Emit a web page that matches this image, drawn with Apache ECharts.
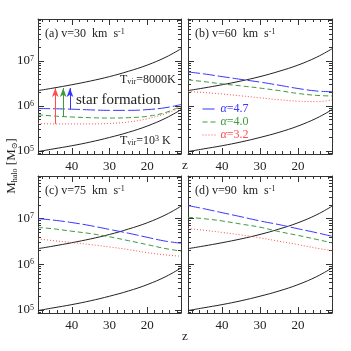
<!DOCTYPE html>
<html>
<head>
<meta charset="utf-8">
<script src="https://cdn.jsdelivr.net/npm/echarts@6/dist/echarts.min.js"></script>
<style>
  html, body { margin: 0; padding: 0; background: #fff; }
  #chart { width: 351px; height: 351px; }
</style>
</head>
<body>
<div id="chart"></div>
<script>
// ====== 数据 ======
const zValues = [49, 45, 40, 35, 30, 25, 20, 15, 11];

// T_vir = 8000K 和 T_vir = 10^3 K（四个面板相同）
const tvir8000 = [2.2e6, 2.5e6, 2.97e6, 3.6e6, 4.5e6, 5.9e6, 8.1e6, 1.22e7, 1.87e7];
const tvir1000 = [0.97e5, 1.11e5, 1.31e5, 1.59e5, 2.0e5, 2.6e5, 3.58e5, 5.4e5, 8.3e5];

// v = 30 km/s
const a47v30 = [8.8e5, 8.7e5, 8.5e5, 8.2e5, 8.0e5, 8.0e5, 8.3e5, 9.2e5, 1.08e6];
const a40v30 = [6.4e5, 6.0e5, 5.7e5, 5.5e5, 5.4e5, 5.5e5, 5.9e5, 7.2e5, 1.0e6];
const a32v30 = [4.1e5, 4.0e5, 4.0e5, 4.0e5, 4.1e5, 4.4e5, 5.2e5, 6.8e5, 9.5e5];
// v = 60 km/s
const a47v60 = [5.7e6, 5.2e6, 4.5e6, 3.9e6, 3.4e6, 2.9e6, 2.45e6, 2.15e6, 2.08e6];
const a40v60 = [3.8e6, 3.5e6, 3.1e6, 2.8e6, 2.5e6, 2.2e6, 1.9e6, 1.72e6, 1.67e6];
const a32v60 = [2.1e6, 2.0e6, 1.85e6, 1.68e6, 1.52e6, 1.38e6, 1.28e6, 1.25e6, 1.36e6];
// v = 75 km/s
const a47v75 = [1.0e7, 9.3e6, 8.2e6, 7.0e6, 5.8e6, 4.8e6, 3.9e6, 3.2e6, 2.9e6];
const a40v75 = [6.4e6, 6.0e6, 5.3e6, 4.7e6, 4.0e6, 3.3e6, 2.7e6, 2.2e6, 1.95e6];
const a32v75 = [3.6e6, 3.3e6, 3.0e6, 2.7e6, 2.4e6, 2.1e6, 1.8e6, 1.6e6, 1.5e6];
// v = 90 km/s
const a47v90 = [1.93e7, 1.66e7, 1.35e7, 1.1e7, 8.9e6, 7.4e6, 6.0e6, 4.9e6, 4.1e6];
const a40v90 = [1.07e7, 1.0e7, 8.9e6, 7.6e6, 6.5e6, 5.2e6, 4.3e6, 3.5e6, 2.95e6];
const a32v90 = [6.1e6, 5.6e6, 5.0e6, 4.4e6, 3.8e6, 3.2e6, 2.7e6, 2.25e6, 2.0e6];

// 面板 (a) 中的箭头（顺序：α=4.7, 4.0, 3.2）
const arrowZ = [40.5, 42.3, 44.4];
const arrowFrom = [8.4e5, 5.7e5, 4.0e5];
const arrowTo = [2.5e6, 2.5e6, 2.5e6];

const panelLabels = ['(a)', '(b)', '(c)', '(d)'];
const velocities = [30, 60, 75, 90];
const alphaNames = ['α=4.7', 'α=4.0', 'α=3.2'];

const zMajor = [40, 30, 20];
const zMinor = [48, 46, 44, 42, 38, 36, 34, 32, 28, 26, 24, 22, 18, 16, 14, 12];
const mMajor = [1e5, 1e6, 1e7];
const mMinor = [9e4, 2e5, 3e5, 4e5, 5e5, 6e5, 7e5, 8e5, 9e5,
                2e6, 3e6, 4e6, 5e6, 6e6, 7e6, 8e6, 9e6,
                2e7, 3e7, 4e7, 5e7, 6e7, 7e7, 8e7];

const curves = [
  [a47v30, a40v30, a32v30],
  [a47v60, a40v60, a32v60],
  [a47v75, a40v75, a32v75],
  [a47v90, a40v90, a32v90]
];

// ====== 样式 ======
const FONT = '"Liberation Serif", "DejaVu Serif", serif';
const AXIS_COLOR = '#333';
const COLORS = ['#3535ff', '#3d9a3d', '#ff4d4d'];
const DASHES = [[12, 3], [5, 3], [1, 2]];

const grids = [
  { left: 38, top: 19, width: 143, height: 135 },
  { left: 188, top: 19, width: 144, height: 135 },
  { left: 38, top: 176, width: 143, height: 137 },
  { left: 188, top: 176, width: 144, height: 137 }
];

const Z_MIN = 11, Z_MAX = 49;
const M_MIN = 8.58e4, M_MAX = 8.58e7;

function xAxisDef(gi, pos, ticks, len, withLine, withLabel) {
  return {
    gridIndex: gi, type: 'value', position: pos, inverse: true,
    min: Z_MIN, max: Z_MAX,
    axisLine: { show: withLine, onZero: false, lineStyle: { color: AXIS_COLOR, width: 1 } },
    axisTick: { show: true, inside: true, length: len, customValues: ticks,
      lineStyle: { color: AXIS_COLOR, width: 1 } },
    axisLabel: withLabel
      ? { show: true, customValues: zMajor, margin: 6, color: '#222', fontSize: 13, fontFamily: FONT }
      : { show: false },
    splitLine: { show: false }
  };
}

function yAxisDef(gi, pos, ticks, len, withLine, withLabel) {
  return {
    gridIndex: gi, type: 'log', logBase: 10, position: pos,
    min: M_MIN, max: M_MAX,
    axisLine: { show: withLine, onZero: false, lineStyle: { color: AXIS_COLOR, width: 1 } },
    axisTick: { show: true, inside: true, length: len, customValues: ticks,
      lineStyle: { color: AXIS_COLOR, width: 1 } },
    axisLabel: withLabel
      ? {
          show: true, customValues: mMajor, margin: 4,
          formatter: v => '{b|10}{s|' + Math.round(Math.log10(v)) + '}',
          rich: {
            b: { fontSize: 13, fontFamily: FONT, color: '#222' },
            s: { fontSize: 8, fontFamily: FONT, color: '#222', verticalAlign: 'top' }
          }
        }
      : { show: false },
    splitLine: { show: false }
  };
}

const xAxes = [], yAxes = [], series = [];

grids.forEach((g, gi) => {
  const xi = xAxes.length, yi = yAxes.length;
  xAxes.push(xAxisDef(gi, 'bottom', zMajor, 6, true, true));
  xAxes.push(xAxisDef(gi, 'bottom', zMinor, 3, false, false));
  xAxes.push(xAxisDef(gi, 'top', zMajor, 6, true, false));
  xAxes.push(xAxisDef(gi, 'top', zMinor, 3, false, false));
  const showY = gi === 0 || gi === 2;
  yAxes.push(yAxisDef(gi, 'left', mMajor, 6, true, showY));
  yAxes.push(yAxisDef(gi, 'left', mMinor, 3, false, false));
  yAxes.push(yAxisDef(gi, 'right', mMajor, 6, true, false));
  yAxes.push(yAxisDef(gi, 'right', mMinor, 3, false, false));

  [tvir8000, tvir1000].forEach(arr => {
    series.push({
      type: 'line', xAxisIndex: xi, yAxisIndex: yi,
      data: zValues.map((z, i) => [z, arr[i]]),
      symbol: 'none', smooth: 0.4, silent: true,
      lineStyle: { color: '#222', width: 1 }
    });
  });

  curves[gi].forEach((arr, k) => {
    const s = {
      name: alphaNames[k],
      type: 'line', xAxisIndex: xi, yAxisIndex: yi,
      data: zValues.map((z, i) => [z, arr[i]]),
      symbol: 'none', smooth: 0.4, silent: true,
      color: COLORS[k],
      lineStyle: { color: COLORS[k], width: 1, type: DASHES[k] }
    };
    if (gi === 0) {
      s.markLine = {
        silent: true, animation: false,
        symbol: ['none', 'arrow'], symbolSize: [5, 9],
        label: { show: false },
        lineStyle: { color: COLORS[k], width: 1, type: 'solid' },
        data: [[{ coord: [arrowZ[k], arrowFrom[k]] }, { coord: [arrowZ[k], arrowTo[k]] }]]
      };
    }
    series.push(s);
  });
});

// ====== 文字 ======
const richBase = {
  n: { fontSize: 12, fontFamily: FONT, fill: '#222' },
  sup: { fontSize: 8, fontFamily: FONT, fill: '#222', verticalAlign: 'top' },
  sub: { fontSize: 8, fontFamily: FONT, fill: '#222', verticalAlign: 'bottom' }
};

function textEl(x, y, text, opts) {
  return Object.assign({
    type: 'text', x: x, y: y, silent: true,
    style: { text: text, rich: richBase, verticalAlign: 'middle', align: 'left', fill: '#222' }
  }, opts || {});
}

const graphics = [];
grids.forEach((g, gi) => {
  graphics.push(textEl(g.left + 7, g.top + 15,
    '{n|' + panelLabels[gi] + ' v=' + velocities[gi] + '  km  s}{sup|-1}'));
});
graphics.push(textEl(120, 80, '{n|T}{sub|vir}{n|=8000K}'));
graphics.push(textEl(120, 141, '{n|T}{sub|vir}{n|=10}{sup|3}{n| K}'));
graphics.push({
  type: 'text', x: 76, y: 100, silent: true,
  style: { text: 'star formation', font: '15px ' + FONT, fill: '#222', verticalAlign: 'middle' }
});
graphics.push({
  type: 'text', x: 185, y: 166, silent: true,
  style: { text: 'z', font: '13px ' + FONT, fill: '#222', align: 'center', verticalAlign: 'middle' }
});
graphics.push({
  type: 'text', x: 185, y: 337, silent: true,
  style: { text: 'z', font: '13px ' + FONT, fill: '#222', align: 'center', verticalAlign: 'middle' }
});
graphics.push({
  type: 'text', x: 12, y: 166, rotation: Math.PI / 2, silent: true,
  style: {
    text: '{m|M}{s|halo}{m| [M}{s|⊙}{m|]}',
    align: 'center', verticalAlign: 'middle',
    rich: {
      m: { fontSize: 13, fontFamily: FONT, fill: '#222' },
      s: { fontSize: 8, fontFamily: FONT, fill: '#222', verticalAlign: 'bottom' }
    }
  }
});

const chart = echarts.init(document.getElementById('chart'));
chart.setOption({
  animation: false,
  backgroundColor: '#fff',
  grid: grids,
  xAxis: xAxes,
  yAxis: yAxes,
  series: series,
  legend: {
    orient: 'vertical', left: 202, top: 103, padding: 0,
    itemWidth: 13, itemHeight: 8, itemGap: 1,
    selectedMode: false,
    itemStyle: { opacity: 0 },
    lineStyle: { width: 1 },
    formatter: name => name.replace('α', '{i|α}'),
    textStyle: {
      fontSize: 12, fontFamily: FONT, lineHeight: 11,
      rich: { i: { fontStyle: 'italic', fontSize: 12, fontFamily: FONT } }
    },
    data: alphaNames.map((n, k) => ({ name: n, textStyle: { color: COLORS[k] } }))
  },
  graphic: graphics
});
</script>
</body>
</html>
